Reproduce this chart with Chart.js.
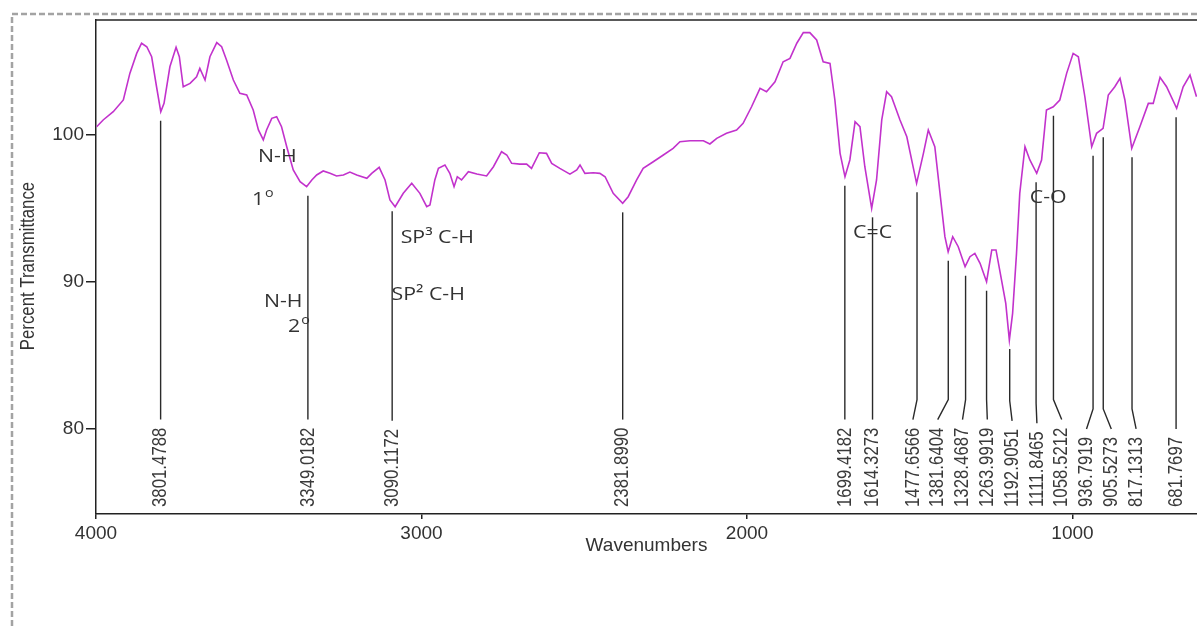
<!DOCTYPE html>
<html>
<head>
<meta charset="utf-8">
<title>FTIR spectrum</title>
<script src="https://cdn.jsdelivr.net/npm/chart.js@4.4.1/dist/chart.umd.min.js"></script>
<style>
  html, body { margin: 0; padding: 0; background: #fff; overflow: hidden; }
  #wrap { position: relative; width: 1197px; height: 626px; }
</style>
</head>
<body>
<div id="wrap"><canvas id="ftir" width="1197" height="626"></canvas></div>
<script>
// spectrum (wavenumber in cm-1, percent transmittance)
const specWave = [3998, 3978, 3947, 3916, 3896, 3875, 3860, 3844, 3829, 3814, 3801, 3791, 3773, 3754, 3744, 3732,
  3711, 3691, 3681, 3665, 3650, 3629, 3614, 3599, 3578, 3558, 3537, 3517, 3501, 3486, 3476, 3460, 3445, 3430,
  3414, 3394, 3373, 3353, 3337, 3322, 3302, 3281, 3261, 3240, 3220, 3199, 3168, 3153, 3130, 3112, 3097, 3081,
  3056, 3030, 3005, 2984, 2974, 2959, 2948, 2928, 2913, 2900, 2890, 2877, 2856, 2830, 2800, 2779, 2754, 2738,
  2723, 2698, 2677, 2662, 2638, 2616, 2600, 2575, 2544, 2523, 2513, 2498, 2472, 2452, 2436, 2411, 2382, 2365,
  2339, 2319, 2288, 2257, 2227, 2206, 2175, 2134, 2114, 2093, 2063, 2032, 2012, 1986, 1960, 1940, 1914, 1889,
  1868, 1847, 1827, 1807, 1786, 1766, 1745, 1730, 1714, 1699, 1684, 1668, 1653, 1638, 1617, 1602, 1586, 1571,
  1556, 1530, 1509, 1479, 1458, 1443, 1423, 1407, 1392, 1382, 1368, 1351, 1330, 1315, 1300, 1284, 1264, 1248,
  1235, 1218, 1205, 1194, 1184, 1172, 1162, 1146, 1131, 1110, 1095, 1080, 1059, 1039, 1018, 998, 982, 962,
  941, 926, 906, 890, 870, 854, 839, 818, 793, 767, 752, 731, 711, 680, 660, 639, 619];
const specT = [100.54, 101.00, 101.56, 102.36, 104.17, 105.53, 106.22, 105.98, 105.30, 103.26, 101.56, 102.13,
  104.62, 105.94, 105.30, 103.26, 103.49, 103.94, 104.51, 103.72, 105.30, 106.26, 105.98, 105.08, 103.72, 102.81,
  102.70, 101.68, 100.32, 99.64, 100.32, 101.11, 101.22, 100.54, 99.18, 97.60, 96.80, 96.46, 96.92, 97.26, 97.53,
  97.37, 97.19, 97.26, 97.46, 97.26, 97.03, 97.37, 97.78, 96.92, 95.56, 95.10, 96.01, 96.69, 96.01, 95.10, 95.22,
  96.92, 97.71, 97.94, 97.37, 96.46, 97.14, 96.92, 97.48, 97.32, 97.19, 97.82, 98.84, 98.62, 98.05, 98.00, 98.00,
  97.71, 98.77, 98.73, 98.05, 97.71, 97.32, 97.60, 97.94, 97.37, 97.41, 97.37, 97.14, 96.01, 95.33, 95.78, 96.92,
  97.71, 98.16, 98.62, 99.07, 99.52, 99.59, 99.59, 99.37, 99.75, 100.09, 100.32, 100.77, 101.90, 103.15, 102.92,
  103.60, 104.96, 105.19, 106.22, 106.94, 106.94, 106.44, 104.96, 104.85, 102.36, 98.73, 97.14, 98.28, 100.88,
  100.54, 97.82, 94.99, 96.92, 101.00, 102.92, 102.58, 101.00, 99.86, 96.69, 98.73, 100.32, 99.18, 96.01, 93.06,
  92.04, 93.06, 92.38, 91.02, 91.70, 91.93, 91.25, 90.00, 92.16, 92.16, 90.11, 88.53, 86.03, 87.85, 91.93, 96.01,
  99.18, 98.28, 97.37, 98.28, 101.68, 101.90, 102.36, 104.17, 105.53, 105.30, 102.58, 99.18, 100.09, 100.43,
  102.70, 103.26, 103.83, 102.36, 99.07, 100.54, 102.13, 102.13, 103.90, 103.26, 101.79, 103.26, 104.06, 102.58];

// picked peaks
const peakWave = [3801.4788, 3349.0182, 3090.1172, 2381.8990, 1699.4182, 1614.3273, 1477.6566, 1381.6404,
  1328.4687, 1263.9919, 1192.9051, 1111.8465, 1058.5212, 936.7919, 905.5273, 817.1313, 681.7697];
const peakT = [101.56, 96.46, 95.4, 95.33, 97.14, 94.99, 96.69, 92.04, 91.02, 90.0, 86.03, 97.37, 101.9,
  99.18, 100.43, 99.07, 101.79];

const xTicks = [4000, 3000, 2000, 1000];
const yTicks = [80, 90, 100];

// band assignments written on the spectrum
const notes = [
  { text: 'N-H', w: 3502, t: 98.14 },
  { text: '1', sup: 'o', w: 3521, t: 95.22 },
  { text: 'N-H', w: 3484, t: 88.28 },
  { text: '2', sup: 'o', w: 3410, t: 86.58 },
  { text: 'SP³ C-H', w: 3064, t: 92.63 },
  { text: 'SP² C-H', w: 3092, t: 88.75 },
  { text: 'C=C', w: 1674, t: 92.97 },
  { text: 'C-O', w: 1131, t: 95.35 }
];

const FONT = '"Liberation Sans", Arial, sans-serif';
const NOTE_FONT = '"Open Sans", "Noto Sans", sans-serif';

// push crowded peak labels apart, each crowd centred on its peaks
function spreadLabels(xs, gap) {
  let groups = xs.map(x => ({ n: 1, sum: x }));
  const first = g => g.sum / g.n - (g.n - 1) * gap / 2;
  const last = g => g.sum / g.n + (g.n - 1) * gap / 2;
  let merged = true;
  while (merged) {
    merged = false;
    for (let i = 1; i < groups.length; i++) {
      if (first(groups[i]) - last(groups[i - 1]) < gap) {
        groups[i - 1] = { n: groups[i - 1].n + groups[i].n, sum: groups[i - 1].sum + groups[i].sum };
        groups.splice(i, 1);
        merged = true;
        break;
      }
    }
  }
  const out = [];
  groups.forEach(g => { for (let k = 0; k < g.n; k++) out.push(first(g) + k * gap); });
  return out;
}

function stretched(ctx, str, x, y, sx) {
  ctx.save();
  ctx.translate(x, y);
  ctx.scale(sx, 1);
  ctx.fillText(str, 0, 0);
  ctx.restore();
  return ctx.measureText(str).width * sx;
}

const framePlugin = {
  id: 'frame',
  beforeDraw(chart) {
    const ctx = chart.ctx;
    ctx.save();
    ctx.fillStyle = '#fff';
    ctx.fillRect(0, 0, chart.width, chart.height);
    // dashed outer box
    ctx.strokeStyle = '#a3a3a3';
    ctx.lineWidth = 2.5;
    ctx.setLineDash([6, 3]);
    ctx.beginPath();
    ctx.moveTo(12, chart.height);
    ctx.lineTo(12, 14);
    ctx.lineTo(chart.width, 14);
    ctx.stroke();
    ctx.restore();
  },
  afterDraw(chart) {
    const ctx = chart.ctx, a = chart.chartArea;
    ctx.save();
    ctx.strokeStyle = '#222';
    ctx.lineWidth = 1.5;
    ctx.beginPath();
    ctx.moveTo(a.left, a.top);
    ctx.lineTo(a.right, a.top);
    ctx.stroke();

    // axis titles
    ctx.fillStyle = '#333';
    ctx.font = '19px ' + FONT;
    ctx.textAlign = 'center';
    ctx.textBaseline = 'middle';
    ctx.fillText('Wavenumbers', (a.left + a.right) / 2, 546);
    ctx.save();
    ctx.translate(28, 266);
    ctx.rotate(-Math.PI / 2);
    ctx.scale(0.8, 1);
    ctx.font = '21px ' + FONT;
    ctx.fillText('Percent Transmittance', 0, 0);
    ctx.restore();
    ctx.restore();
  }
};

const peakPlugin = {
  id: 'peaks',
  afterDatasetsDraw(chart) {
    const ctx = chart.ctx, xs = chart.scales.x, ys = chart.scales.y;
    const px = peakWave.map(w => xs.getPixelForValue(w));
    const lx = spreadLabels(px, 24.8);
    const base = chart.chartArea.bottom - 7;
    ctx.save();
    ctx.font = '21px ' + FONT;
    ctx.strokeStyle = '#2a2a2a';
    ctx.lineWidth = 1.4;
    ctx.fillStyle = '#3a3a3a';
    peakWave.forEach((w, i) => {
      const label = w.toFixed(4);
      const len = ctx.measureText(label).width * 0.8;
      const yEnd = base - len - 8;
      const yTop = ys.getPixelForValue(peakT[i]) + 9;
      ctx.beginPath();
      ctx.moveTo(px[i], yTop);
      if (Math.abs(lx[i] - px[i]) > 0.5) ctx.lineTo(px[i], yEnd - 20);
      ctx.lineTo(lx[i], yEnd);
      ctx.stroke();
      ctx.save();
      ctx.translate(lx[i], base);
      ctx.rotate(-Math.PI / 2);
      ctx.scale(0.8, 1);
      ctx.textAlign = 'left';
      ctx.textBaseline = 'middle';
      ctx.fillText(label, 0, 0);
      ctx.restore();
    });

    // band notes
    ctx.fillStyle = '#333';
    ctx.textAlign = 'left';
    ctx.textBaseline = 'alphabetic';
    notes.forEach(n => {
      const x = xs.getPixelForValue(n.w), y = ys.getPixelForValue(n.t);
      ctx.font = '19px ' + NOTE_FONT;
      const wd = stretched(ctx, n.text, x, y, 1.12);
      if (n.sup) {
        ctx.font = '13px ' + NOTE_FONT;
        stretched(ctx, n.sup, x + wd + 1, y - 8, 1.1);
      }
    });
    ctx.restore();
  }
};

new Chart(document.getElementById('ftir'), {
  type: 'scatter',
  data: {
    datasets: [{
      data: specWave.map((w, i) => ({ x: w, y: specT[i] })),
      showLine: true,
      borderColor: '#c232cc',
      borderWidth: 1.6,
      pointRadius: 0,
      tension: 0
    }]
  },
  options: {
    responsive: false,
    animation: false,
    devicePixelRatio: 1,
    layout: { padding: { top: 20, right: 0, left: 0, bottom: 0 } },
    plugins: { legend: { display: false }, tooltip: { enabled: false } },
    scales: {
      x: {
        type: 'linear',
        reverse: true,
        min: 617.5,
        max: 4000,
        afterFit: s => { s.height = 112; },
        afterBuildTicks: s => { s.ticks = xTicks.map(v => ({ value: v })); },
        grid: { drawOnChartArea: false, tickLength: 5, color: '#222', lineWidth: 1.5 },
        border: { display: true, color: '#222', width: 1.5 },
        ticks: {
          font: { size: 19, family: FONT }, color: '#333', padding: 3, maxRotation: 0, autoSkip: false,
          callback: v => String(v)
        }
      },
      y: {
        min: 74.2,
        max: 107.8,
        afterFit: s => { s.width = 96; },
        afterBuildTicks: s => { s.ticks = yTicks.map(v => ({ value: v })); },
        grid: { drawOnChartArea: false, tickLength: 10, color: '#222', lineWidth: 1.5 },
        border: { display: true, color: '#222', width: 1.5 },
        ticks: { font: { size: 19, family: FONT }, color: '#333', padding: 2, callback: v => String(v) }
      }
    }
  },
  plugins: [framePlugin, peakPlugin]
});
</script>
</body>
</html>
